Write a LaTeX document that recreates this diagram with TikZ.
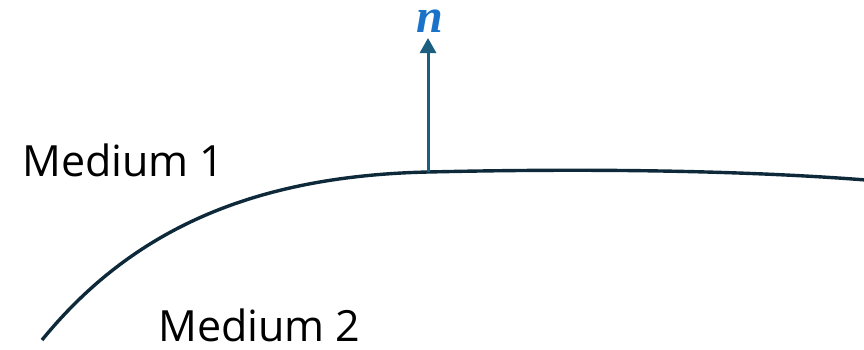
\documentclass[tikz,border=0pt]{standalone}
\usepackage{fontspec}
\setmainfont{Open Sans}
\newfontfamily\nfont{Liberation Serif}
\usetikzlibrary{arrows.meta}
\definecolor{curvecol}{HTML}{0E2A3A}
\definecolor{arrowcol}{HTML}{1B5E80}
\definecolor{ncol}{HTML}{1A73C8}
\begin{document}
\begin{tikzpicture}[x=1pt,y=-1pt,
  boundary/.style={draw=curvecol,line width=3.4pt},
  normal/.style={draw=arrowcol,line width=3pt,-{Triangle[length=15pt,width=16pt]}},
  medium/.style={font=\fontsize{43}{43}\selectfont,anchor=base west,inner sep=0pt,text depth=0pt}]
\useasboundingbox (0,0) rectangle (864,349);
\coordinate (a) at (42,340);
\coordinate (p) at (428,172);
\coordinate (e) at (866,180);
\coordinate (tip) at (428,38);
\draw[boundary] (a) .. controls (130,232) and (250,176) .. (p)
  .. controls (600,168) and (750,171) .. (e);
\draw[normal] (p) -- (tip);
\node[text=ncol,font=\nfont\bfseries\itshape\fontsize{48}{48}\selectfont,anchor=base,inner sep=0pt,text height=23pt,text depth=0pt] (n) at (430,32) {n};
\node[medium] (m1) at (22,176) {Medium 1};
\node[medium] (m2) at (158,341) {Medium 2};
\end{tikzpicture}
\end{document}
